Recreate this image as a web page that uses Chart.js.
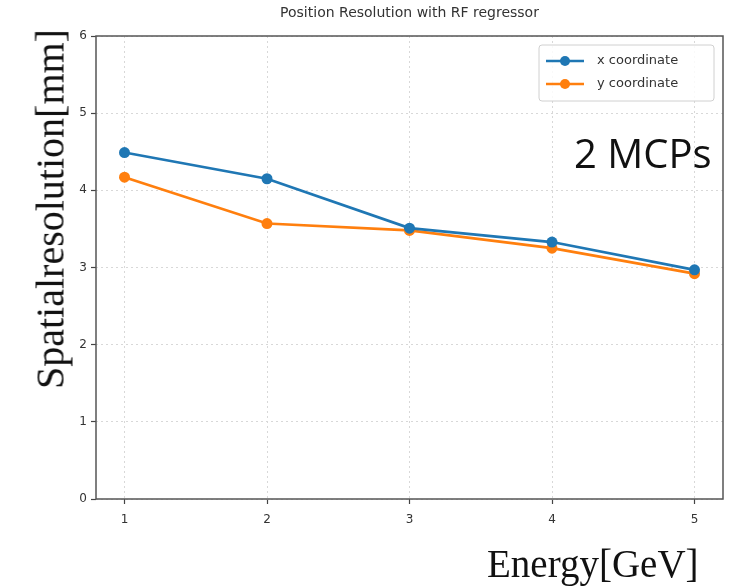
<!DOCTYPE html>
<html>
<head>
<meta charset="utf-8">
<script src="https://cdn.jsdelivr.net/npm/chart.js@4"></script>
<style>
  body { margin: 0; background: #fff; }
  #wrap { position: relative; width: 733px; height: 587px; }
  .lbl { position: absolute; white-space: nowrap; line-height: 1; color: #111; }
  #ylab { left: 50px; top: 209px; font: 40px "Liberation Serif", serif; transform: translate(-50%, -50%) rotate(-90deg); }
  #xlab { left: 487px; top: 541px; font: 39px "Liberation Serif", serif; }
  #note { left: 574px; top: 125px; font: 40px "Open Sans", sans-serif; }
</style>
</head>
<body>
<div id="wrap">
  <canvas id="chart" width="733" height="587"></canvas>
  <div class="lbl" id="ylab">Spatialresolution[mm]</div>
  <div class="lbl" id="xlab">Energy[GeV]</div>
  <div class="lbl" id="note">2 MCPs</div>
</div>
<script>
var energies = [1, 2, 3, 4, 5];
var xCoordRes = [4.49, 4.15, 3.51, 3.33, 2.97];
var yCoordRes = [4.17, 3.57, 3.48, 3.25, 2.92];
var xTickVals = [1, 2, 3, 4, 5];
var yTickVals = [0, 1, 2, 3, 4, 5, 6];
var seriesNames = ['x coordinate', 'y coordinate'];
var chartTitle = 'Position Resolution with RF regressor';

var blue = '#1f77b4';
var orange = '#ff7f0e';

function toPoints(vals) {
    return energies.map(function(e, i) { return {x: e, y: vals[i]}; });
}

// title, frame and matplotlib-like legend
var framePlugin = {
    id: 'frame',
    afterDatasetsDraw: function(chart) {
        var ctx = chart.ctx;
        var a = chart.chartArea;
        ctx.save();
        ctx.strokeStyle = '#555';
        ctx.lineWidth = 1.5;
        ctx.strokeRect(a.left, a.top, a.right - a.left, a.bottom - a.top);

        ctx.fillStyle = '#333';
        ctx.font = '14px "DejaVu Sans"';
        ctx.textAlign = 'center';
        ctx.textBaseline = 'middle';
        ctx.fillText(chartTitle, (a.left + a.right) / 2, 13);

        // legend box
        var bx = 539, by = 45, bw = 175, bh = 56;
        ctx.fillStyle = 'rgba(255,255,255,0.85)';
        ctx.strokeStyle = '#d0d0d0';
        ctx.lineWidth = 1;
        ctx.beginPath();
        ctx.roundRect(bx, by, bw, bh, 3);
        ctx.fill();
        ctx.stroke();
        var cols = [blue, orange];
        seriesNames.forEach(function(name, i) {
            var yy = by + 16 + i * 23;
            ctx.strokeStyle = cols[i];
            ctx.lineWidth = 2.5;
            ctx.beginPath();
            ctx.moveTo(bx + 7, yy);
            ctx.lineTo(bx + 45, yy);
            ctx.stroke();
            ctx.fillStyle = cols[i];
            ctx.beginPath();
            ctx.arc(bx + 26, yy, 5, 0, Math.PI * 2);
            ctx.fill();
            ctx.fillStyle = '#333';
            ctx.font = '13px "DejaVu Sans"';
            ctx.textAlign = 'left';
            ctx.fillText(name, bx + 58, yy);
        });
        ctx.restore();
    }
};

var ctx = document.getElementById('chart').getContext('2d');
new Chart(ctx, {
    type: 'line',
    data: {
        datasets: [{
            label: seriesNames[0],
            data: toPoints(xCoordRes),
            borderColor: blue,
            backgroundColor: blue,
            borderWidth: 2.7,
            pointRadius: 5.5,
            pointBorderWidth: 0,
            tension: 0
        }, {
            label: seriesNames[1],
            data: toPoints(yCoordRes),
            borderColor: orange,
            backgroundColor: orange,
            borderWidth: 2.7,
            pointRadius: 5.5,
            pointBorderWidth: 0,
            tension: 0
        }]
    },
    options: {
        responsive: false,
        animation: false,
        layout: { padding: { left: 46, right: 10, top: 36, bottom: 58 } },
        plugins: {
            legend: { display: false },
            title: { display: false },
            tooltip: { enabled: false }
        },
        scales: {
            x: {
                type: 'linear',
                min: 0.8,
                max: 5.2,
                afterFit: function(s) { s.height = 30; },
                afterBuildTicks: function(s) { s.ticks = xTickVals.map(function(v) { return {value: v}; }); },
                border: { display: false, dash: [2, 3] },
                grid: { color: '#d8d8d8', tickColor: '#444', tickLength: 5, tickWidth: 1.2, tickBorderDash: [] },
                ticks: { color: '#333', font: { family: 'DejaVu Sans', size: 12 }, padding: 9, maxRotation: 0 }
            },
            y: {
                min: 0,
                max: 6,
                afterFit: function(s) { s.width = 50; },
                afterBuildTicks: function(s) { s.ticks = yTickVals.map(function(v) { return {value: v}; }); },
                border: { display: false, dash: [2, 3] },
                grid: { color: '#d8d8d8', tickColor: '#444', tickLength: 5, tickWidth: 1.2, tickBorderDash: [] },
                ticks: { color: '#333', font: { family: 'DejaVu Sans', size: 12 }, padding: 4 }
            }
        }
    },
    plugins: [framePlugin]
});
</script>
</body>
</html>
